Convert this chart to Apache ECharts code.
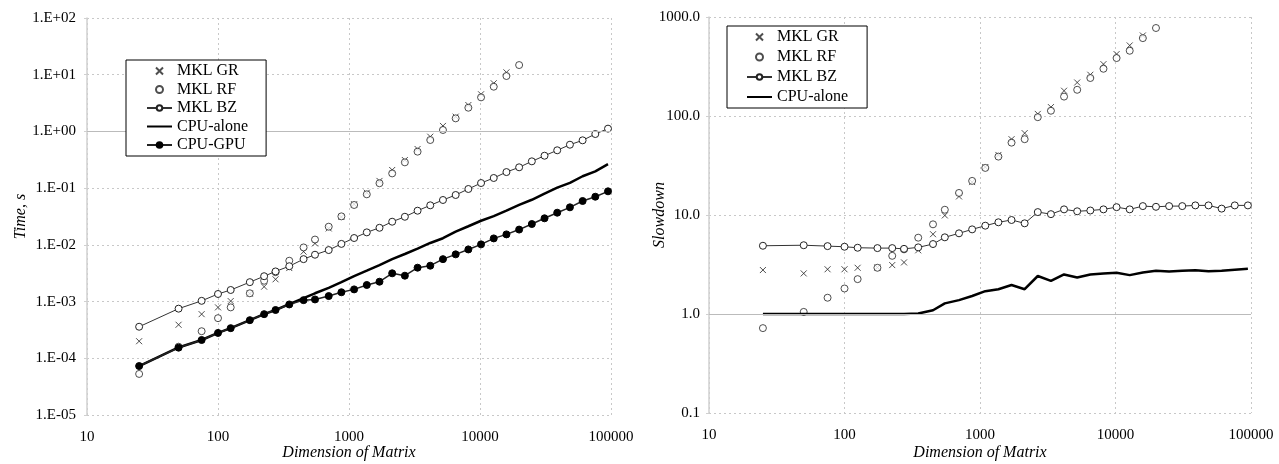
<!DOCTYPE html>
<html>
<head>
<meta charset="utf-8">
<script src="https://cdn.jsdelivr.net/npm/echarts@6/dist/echarts.min.js"></script>
<style>
  html, body { margin: 0; padding: 0; background: #fff; }
  #chart { width: 1279px; height: 464px; }
</style>
</head>
<body>
<div id="chart"></div>
<script>
// matrix dimensions (x values)
var dims = [25, 50, 75, 100, 125, 175, 225, 275, 350, 450, 550, 700, 875, 1094, 1367, 1709, 2136, 2670,
  3338, 4172, 5215, 6519, 8149, 10186, 12732, 15916, 19895, 24868, 31085, 38857, 48571, 60714, 75892, 94865];

// left chart: time, s
var timeGR = [2.0e-4, 3.9e-4, 6.0e-4, 7.9e-4, 1.02e-3, 1.38e-3, 1.83e-3, 2.47e-3, 3.9e-3, 7.6e-3, 0.0106, 0.0195,
  0.031, 0.052, 0.083, 0.134, 0.209, 0.313, 0.490, 0.807, 1.25, 1.82, 2.92, 4.52, 7.06, 11.0];
var timeRF = [5.3e-5, 1.6e-4, 3.0e-4, 5.1e-4, 7.9e-4, 1.4e-3, 2.33e-3, 3.3e-3, 5.25e-3, 9.0e-3, 0.0124, 0.0209,
  0.0318, 0.0505, 0.0778, 0.122, 0.182, 0.285, 0.440, 0.706, 1.06, 1.70, 2.62, 3.99, 6.15, 9.48, 14.8];
var timeBZ = [3.6e-4, 7.5e-4, 1.03e-3, 1.36e-3, 1.6e-3, 2.2e-3, 2.8e-3, 3.4e-3, 4.2e-3, 5.6e-3, 6.7e-3, 8.1e-3,
  0.0104, 0.0132, 0.0166, 0.0200, 0.0256, 0.0313, 0.040, 0.0498, 0.0618, 0.0757, 0.0966, 0.123, 0.151, 0.192,
  0.233, 0.297, 0.373, 0.465, 0.583, 0.697, 0.90, 1.12];
var timeCPU = [7.3e-5, 1.55e-4, 2.1e-4, 2.8e-4, 3.4e-4, 4.7e-4, 6.0e-4, 7.1e-4, 9.0e-4, 1.15e-3, 1.4e-3, 1.75e-3,
  2.2e-3, 2.8e-3, 3.5e-3, 4.4e-3, 5.6e-3, 6.9e-3, 8.6e-3, 0.0108, 0.0131, 0.0171, 0.0213, 0.0266, 0.0321, 0.0402,
  0.0508, 0.0624, 0.0803, 0.102, 0.124, 0.162, 0.198, 0.265];
var timeGPU = [7.3e-5, 1.54e-4, 2.1e-4, 2.8e-4, 3.4e-4, 4.7e-4, 6.0e-4, 7.1e-4, 8.9e-4, 1.06e-3, 1.09e-3, 1.25e-3,
  1.46e-3, 1.64e-3, 1.96e-3, 2.24e-3, 3.15e-3, 2.86e-3, 3.96e-3, 4.29e-3, 5.6e-3, 6.8e-3, 8.3e-3, 0.0102, 0.0130,
  0.0153, 0.0186, 0.0233, 0.0294, 0.0369, 0.0459, 0.0593, 0.0706, 0.0879];

// right chart: slowdown
var slowGR = [2.78, 2.57, 2.83, 2.83, 2.93, 2.95, 3.12, 3.32, 4.4, 6.4, 9.9, 15.4, 21.5, 30.5, 40.4, 58.3, 67.1,
  105, 123, 180, 218, 261, 334, 422, 516, 651];
var slowRF = [0.72, 1.05, 1.46, 1.81, 2.25, 2.93, 3.87, 4.5, 5.9, 8.05, 11.3, 16.7, 22.1, 29.9, 38.9, 53.8, 58.3,
  97.3, 113, 157, 184, 242, 300, 385, 456, 612, 774];
var slowBZ = [4.89, 4.95, 4.85, 4.78, 4.67, 4.63, 4.63, 4.55, 4.71, 5.09, 5.95, 6.53, 7.16, 7.80, 8.44, 8.90, 8.24,
  10.7, 10.2, 11.4, 10.9, 11.1, 11.4, 12.0, 11.4, 12.3, 12.1, 12.3, 12.3, 12.5, 12.5, 11.6, 12.5, 12.5];
var slowCPU = [1.0, 1.0, 1.0, 1.0, 1.0, 1.0, 1.0, 1.0, 1.01, 1.09, 1.28, 1.38, 1.52, 1.70, 1.78, 1.96, 1.78, 2.42,
  2.16, 2.51, 2.34, 2.51, 2.57, 2.61, 2.47, 2.63, 2.73, 2.68, 2.73, 2.77, 2.70, 2.73, 2.80, 2.86];

var xTicks = [10, 100, 1000, 10000, 100000];

function pairs(ys) {
    return ys.map(function (y, i) { return [dims[i], y]; });
}

var serif = '"Liberation Serif", "DejaVu Serif", serif';
var ink = '#222';
var crossPath = 'path://M0,0L10,10M10,0L0,10';

function expOf(v) { return Math.round(Math.log(v) / Math.LN10); }

function xAxisFor(idx, gap) {
    return {
        gridIndex: idx, type: 'log', logBase: 10, min: 10, max: 100000,
        name: 'Dimension of Matrix', nameLocation: 'middle', nameGap: gap, nameMoveOverlap: false,
        nameTextStyle: { fontFamily: serif, fontStyle: 'italic', fontSize: 16, color: '#000' },
        axisLine: { show: false },
        axisTick: { show: false },
        axisLabel: {
            fontFamily: serif, fontSize: 15, color: '#000', margin: 15,
            formatter: function (v) { return String(xTicks[expOf(v) - 1]); }
        },
        splitLine: { show: true, lineStyle: { color: '#c8c8c8', type: [2, 3], width: 1 } }
    };
}

function yAxisFor(idx, min, max, name, fmt, gap, margin) {
    return {
        gridIndex: idx, type: 'log', logBase: 10, min: min, max: max,
        name: name, nameLocation: 'middle', nameGap: gap, nameRotate: 90, nameMoveOverlap: false,
        nameTextStyle: { fontFamily: serif, fontStyle: 'italic', fontSize: 16, color: '#000' },
        axisLine: { show: true, lineStyle: { color: '#d0d0d0', width: 1.5 } },
        axisTick: { show: true, length: 3, lineStyle: { color: '#d0d0d0' } },
        axisLabel: { fontFamily: serif, fontSize: 15, color: '#000', margin: margin, formatter: fmt },
        splitLine: { show: true, lineStyle: { color: '#c8c8c8', type: [2, 3], width: 1 } }
    };
}

var oneLine = {
    silent: true, symbol: 'none', animation: false,
    label: { show: false },
    lineStyle: { color: '#bbbbbb', type: 'solid', width: 1 },
    data: [{ yAxis: 1 }]
};

function grSeries(idx, ys) {
    return {
        name: 'MKL GR', type: 'scatter', xAxisIndex: idx, yAxisIndex: idx, data: pairs(ys),
        symbol: crossPath, symbolSize: 6,
        itemStyle: { color: 'rgba(0,0,0,0)', borderColor: ink, borderWidth: 1 }
    };
}
function rfSeries(idx, ys) {
    return {
        name: 'MKL RF', type: 'scatter', xAxisIndex: idx, yAxisIndex: idx, data: pairs(ys),
        symbol: 'circle', symbolSize: 7,
        itemStyle: { color: '#fff', borderColor: ink, borderWidth: 1 }
    };
}
function bzSeries(idx, ys) {
    return {
        name: 'MKL BZ', type: 'line', xAxisIndex: idx, yAxisIndex: idx, data: pairs(ys),
        symbol: 'circle', symbolSize: 7, showAllSymbol: true,
        lineStyle: { color: '#333', width: 1 },
        itemStyle: { color: '#fff', borderColor: ink, borderWidth: 1 },
        markLine: oneLine
    };
}
function cpuSeries(idx, ys) {
    return {
        name: 'CPU-alone', type: 'line', xAxisIndex: idx, yAxisIndex: idx, data: pairs(ys),
        symbol: 'none', lineStyle: { color: '#000', width: 2.5 },
        itemStyle: { color: 'rgba(0,0,0,0)', borderWidth: 0 }
    };
}

var legendBase = {
    orient: 'vertical', backgroundColor: '#fff', z: 100, zlevel: 1,
    borderColor: '#000', borderWidth: 1,
    itemWidth: 25, itemHeight: 7,
    textStyle: { fontFamily: serif, fontSize: 16, color: '#000' }
};

var chart = echarts.init(document.getElementById('chart'), null, { renderer: 'canvas' });
chart.setOption({
    animation: false,
    grid: [
        { left: 87, right: 668, top: 18, bottom: 49, outerBoundsMode: 'none', containLabel: false },
        { left: 709, right: 28, top: 17, bottom: 51, outerBoundsMode: 'none', containLabel: false }
    ],
    legend: [
        Object.assign({}, legendBase, {
            left: 126, top: 60, padding: [3, 18, 3, 20], itemGap: 2.5,
            data: ['MKL GR', 'MKL RF', 'MKL BZ', 'CPU-alone', 'CPU-GPU']
        }),
        Object.assign({}, legendBase, {
            left: 727, top: 26, padding: [3, 19, 3, 19], itemGap: 4,
            data: ['MKL GR', 'MKL RF', 'MKL BZ', 'CPU-alone']
        })
    ],
    xAxis: [xAxisFor(0, 30), xAxisFor(1, 32)],
    yAxis: [
        yAxisFor(0, 1e-5, 100, 'Time, s', function (v) {
            var e = expOf(v);
            return '1.E' + (e < 0 ? '-' : '+') + (Math.abs(e) < 10 ? '0' : '') + Math.abs(e);
        }, 58, 11),
        yAxisFor(1, 0.1, 1000, 'Slowdown', function (v) {
            return Math.pow(10, expOf(v)).toFixed(1);
        }, 41, 9)
    ],
    series: [
        grSeries(0, timeGR),
        rfSeries(0, timeRF),
        bzSeries(0, timeBZ),
        cpuSeries(0, timeCPU),
        {
            name: 'CPU-GPU', type: 'line', xAxisIndex: 0, yAxisIndex: 0, data: pairs(timeGPU),
            symbol: 'circle', symbolSize: 7, showAllSymbol: true,
            lineStyle: { color: '#222', width: 1.5 },
            itemStyle: { color: '#000', borderColor: '#000', borderWidth: 1 }
        },
        grSeries(1, slowGR),
        rfSeries(1, slowRF),
        bzSeries(1, slowBZ),
        cpuSeries(1, slowCPU)
    ]
});
</script>
</body>
</html>
